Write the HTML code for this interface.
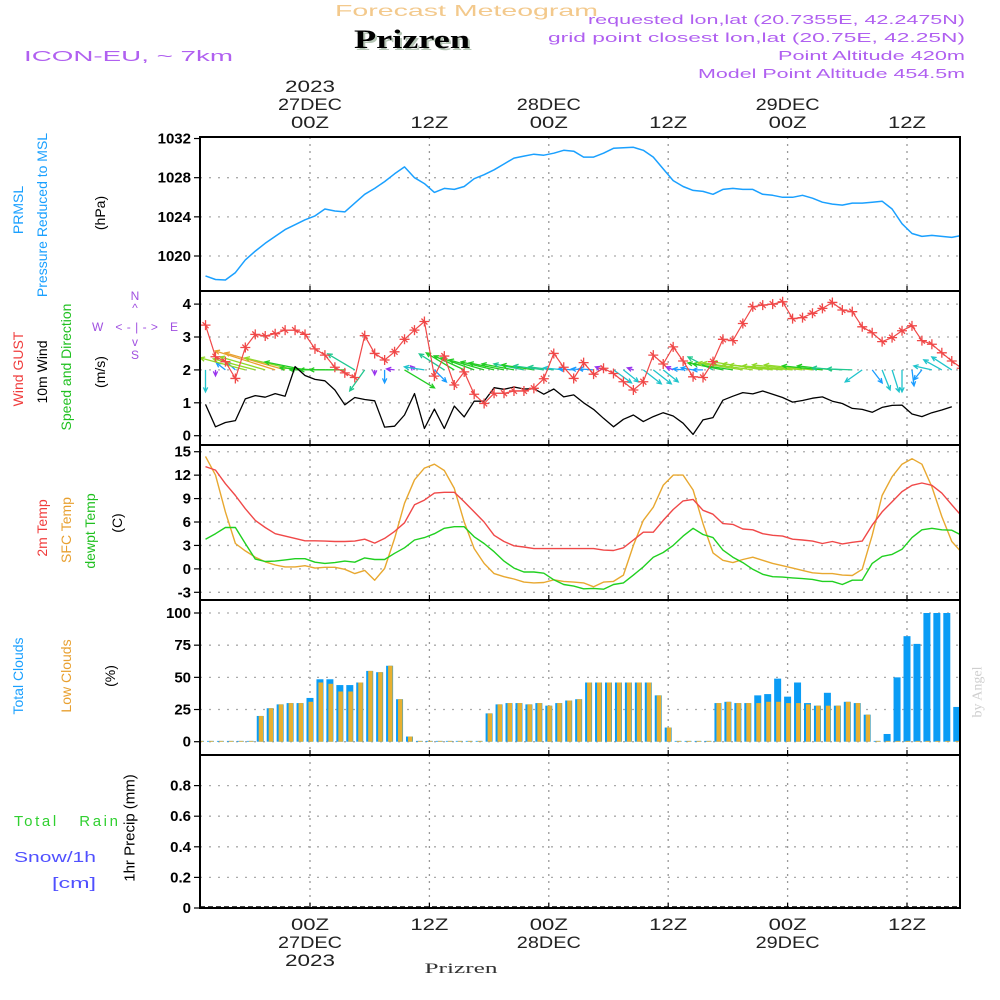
<!DOCTYPE html>
<html>
<head>
<meta charset="utf-8">
<style>
html,body{margin:0;padding:0;background:#fff;}
svg{display:block;}
text{font-family:"Liberation Sans",sans-serif;}
</style>
</head>
<body>
<svg id="chart" width="1000" height="1000" viewBox="0 0 1000 1000" xmlns="http://www.w3.org/2000/svg">
  <text x="335" y="16" font-size="16" fill="#f3c98c" textLength="263" lengthAdjust="spacingAndGlyphs">Forecast Meteogram</text>
  <text x="356" y="50" font-size="26" font-weight="bold" fill="#b5c5b5" textLength="116" lengthAdjust="spacingAndGlyphs" style="font-family:'Liberation Serif',serif">Prizren</text>
  <text x="354" y="48" font-size="26" font-weight="bold" fill="#000" textLength="116" lengthAdjust="spacingAndGlyphs" style="font-family:'Liberation Serif',serif">Prizren</text>
  <text x="24" y="61" font-size="15" fill="#b060f0" textLength="209" lengthAdjust="spacingAndGlyphs">ICON-EU, ~ 7km</text>
  <text x="965" y="24" font-size="13" fill="#b060f0" text-anchor="end" textLength="377" lengthAdjust="spacingAndGlyphs">requested lon,lat (20.7355E, 42.2475N)</text>
  <text x="965" y="42" font-size="13" fill="#b060f0" text-anchor="end" textLength="417" lengthAdjust="spacingAndGlyphs">grid point closest lon,lat (20.75E, 42.25N)</text>
  <text x="965" y="60" font-size="13" fill="#b060f0" text-anchor="end" textLength="187" lengthAdjust="spacingAndGlyphs">Point Altitude 420m</text>
  <text x="965" y="78" font-size="13" fill="#b060f0" text-anchor="end" textLength="267" lengthAdjust="spacingAndGlyphs">Model Point Altitude 454.5m</text>

  <g font-size="14">
    <text transform="translate(18,210) rotate(-90)" text-anchor="middle" dominant-baseline="central" fill="#1aa0ff">PRMSL</text>
    <text transform="translate(42,215) rotate(-90)" text-anchor="middle" dominant-baseline="central" fill="#1aa0ff">Pressure Reduced to MSL</text>
    <text transform="translate(100,213) rotate(-90)" text-anchor="middle" dominant-baseline="central" fill="#000">(hPa)</text>
    <text transform="translate(18,369) rotate(-90)" text-anchor="middle" dominant-baseline="central" fill="#f03c3c">Wind GUST</text>
    <text transform="translate(42,372) rotate(-90)" text-anchor="middle" dominant-baseline="central" fill="#000">10m Wind</text>
    <text transform="translate(66,367) rotate(-90)" text-anchor="middle" dominant-baseline="central" fill="#20c020">Speed and Direction</text>
    <text transform="translate(100,372) rotate(-90)" text-anchor="middle" dominant-baseline="central" fill="#000">(m/s)</text>
    <text transform="translate(42,528) rotate(-90)" text-anchor="middle" dominant-baseline="central" fill="#f03c3c">2m Temp</text>
    <text transform="translate(66,530) rotate(-90)" text-anchor="middle" dominant-baseline="central" fill="#e8a030">SFC Temp</text>
    <text transform="translate(90,531) rotate(-90)" text-anchor="middle" dominant-baseline="central" fill="#20c020">dewpt Temp</text>
    <text transform="translate(117,523) rotate(-90)" text-anchor="middle" dominant-baseline="central" fill="#000">(C)</text>
    <text transform="translate(18,676) rotate(-90)" text-anchor="middle" dominant-baseline="central" fill="#1aa0ff">Total Clouds</text>
    <text transform="translate(66,676) rotate(-90)" text-anchor="middle" dominant-baseline="central" fill="#e8a030">Low Clouds</text>
    <text transform="translate(110,676) rotate(-90)" text-anchor="middle" dominant-baseline="central" fill="#000">(%)</text>
    <text transform="translate(130,828) rotate(-90)" text-anchor="middle" dominant-baseline="central" fill="#000" font-size="15">1hr Precip (mm)</text>
  </g>
  <text x="14" y="826" font-size="15" fill="#30d030" textLength="104" lengthAdjust="spacing" xml:space="preserve">Total   Rain</text>
  <text x="14" y="862" font-size="15" fill="#5050ff" textLength="82" lengthAdjust="spacingAndGlyphs">Snow/1h</text>
  <text x="52" y="888" font-size="15" fill="#5050ff" textLength="44" lengthAdjust="spacingAndGlyphs">[cm]</text>
  <text transform="translate(978,692) rotate(-90)" text-anchor="middle" dominant-baseline="central" font-size="14" fill="#cfcfcf" style="font-family:'Liberation Serif',serif">by Angel</text>

  <g fill="#a050e0" font-size="12">
    <text x="135" y="300" text-anchor="middle">N</text>
    <text x="135" y="312" text-anchor="middle">^</text>
    <text x="135" y="331" text-anchor="middle" textLength="86" lengthAdjust="spacing" xml:space="preserve">W &lt;-|-&gt; E</text>
    <text x="135" y="346" text-anchor="middle">v</text>
    <text x="135" y="359" text-anchor="middle">S</text>
  </g>

  <g id="plots"></g>

  <text x="461" y="973" font-size="15" fill="#333" text-anchor="middle" textLength="73" lengthAdjust="spacingAndGlyphs" style="font-family:'Liberation Serif',serif">Prizren</text>
</svg>

<script>
const timeTicks = [0, 12, 24, 36, 48, 60];
const topDateLabels = ["27DEC", "", "28DEC", "", "29DEC", ""];
const hourLabels = ["00Z", "12Z", "00Z", "12Z", "00Z", "12Z"];
const pressureTicks = [1020, 1024, 1028, 1032];
const windTicks = [0, 1, 2, 3, 4];
const tempTicks = [-3, 0, 3, 6, 9, 12, 15];
const cloudTicks = [0, 25, 50, 75, 100];
const precipTicks = [0, 0.2, 0.4, 0.6, 0.8];
const precipTickLabels = ["0", "0.2", "0.4", "0.6", "0.8"];

const pressure = [1017.97,1017.6,1017.55,1018.3,1019.6,1020.5,1021.3,1022.0,1022.7,1023.2,1023.7,1024.1,1024.8,1024.6,1024.5,1025.4,1026.3,1026.9,1027.6,1028.4,1029.1,1028.0,1027.4,1026.5,1026.9,1026.8,1027.1,1027.9,1028.3,1028.8,1029.4,1030.0,1030.2,1030.4,1030.3,1030.5,1030.8,1030.7,1030.1,1030.1,1030.5,1031.0,1031.05,1031.1,1030.8,1030.1,1028.9,1027.7,1027.1,1026.7,1026.6,1026.3,1026.8,1026.9,1026.8,1026.8,1026.3,1026.2,1026.0,1026.0,1026.2,1025.9,1025.5,1025.3,1025.2,1025.4,1025.4,1025.5,1025.6,1024.8,1023.3,1022.3,1022.0,1022.1,1022.0,1021.9,1022.1];

const wind10m = [0.95,0.27,0.4,0.46,1.12,1.22,1.17,1.28,1.2,2.1,1.83,1.71,1.67,1.39,0.94,1.16,1.1,1.06,0.26,0.29,0.63,1.28,0.22,0.81,0.22,0.9,0.57,1.05,1.05,1.46,1.41,1.48,1.42,1.43,1.26,1.42,1.18,1.24,1.0,0.8,0.53,0.27,0.5,0.63,0.43,0.58,0.7,0.6,0.38,0.04,0.48,0.55,1.08,1.2,1.31,1.27,1.36,1.26,1.16,1.02,1.07,1.14,1.18,1.05,0.98,0.83,0.8,0.71,0.86,0.92,0.93,0.66,0.58,0.7,0.78,0.88];

const windGust = [3.36,2.4,2.25,1.74,2.68,3.08,3.03,3.1,3.21,3.21,3.08,2.64,2.45,2.08,1.91,1.77,3.04,2.5,2.3,2.55,2.93,3.21,3.47,1.81,2.42,1.54,1.94,1.26,0.98,1.29,1.29,1.36,1.36,1.44,1.73,2.5,2.08,1.74,2.22,1.87,2.05,1.89,1.64,1.39,1.64,2.45,2.18,2.7,2.27,1.79,1.77,2.25,2.93,2.89,3.41,3.92,3.97,4.0,4.07,3.56,3.59,3.72,3.87,4.05,3.82,3.77,3.31,3.13,2.86,2.98,3.19,3.34,2.89,2.78,2.52,2.27,2.05];

const windU = [0,0,-0.9,-0.9,-4.5,-4.2,-4.5,-6,-6,-5,-4,-3.5,-3.5,-3.5,-3.5,-2.7,-1.5,0,0,-0.8,3,-0.4,-2,1.2,-2.5,-2.8,-3.0,-3.3,-3.5,-3.3,-3.5,-3.2,-3.0,-3.2,-3.0,-2.5,-2.0,-1.5,-1.2,-1.5,-0.8,1.8,1.5,-0.6,1.8,1.8,1.5,-0.7,-1.0,-1.2,-1.0,-2.5,-3.5,-4,-4.5,-5,-5,-5,-5.3,-5,-5,-4.8,-4,-3.5,-3,-2.5,-1.7,1,0.8,0.7,0,0.2,-0.8,-1.8,-1.8,-2,1.5];
const windV = [-2.2,-0.6,0.7,0.8,1.2,1.1,1.3,1.9,1.7,1.2,0.8,0.2,0,0,0,1.6,-2.1,-0.5,-1.3,0.1,-1.8,0.4,0.3,-1.2,1.6,1.7,1.4,1.2,1.0,0.8,0.7,0.6,0.6,0.5,0.4,0.3,0.2,0.1,0.1,0.1,0.3,-1.3,-1.2,0.2,-1.4,-1.4,-1.2,0.3,0.1,0.2,0,1.3,0.7,0.6,0.7,0.7,0.8,0.6,0.5,0.4,0.5,0.5,0.4,0.4,0.2,0.1,-1.2,-1.3,-2,-2.2,-2.2,-1.6,-1.0,0.4,1.0,1.3,-0.4];

const temp2m = [13.1,12.65,10.9,9.4,7.7,6.2,5.3,4.5,4.2,3.9,3.6,3.6,3.55,3.5,3.5,3.55,3.8,3.3,3.9,4.8,5.9,8.2,8.8,9.7,9.8,9.8,8.6,7.3,6.0,4.3,3.5,2.95,2.8,2.6,2.6,2.6,2.6,2.6,2.6,2.6,2.4,2.35,2.7,3.7,4.7,4.7,6.2,7.6,8.7,8.9,7.5,7.0,5.8,5.7,5.1,5.0,4.5,4.3,4.2,3.8,3.7,3.55,3.25,3.5,3.2,3.4,3.55,5.6,7.3,8.6,9.9,10.7,11.0,10.7,9.7,8.2,6.75];
const tempSfc = [14.4,12,7.3,3.25,2.3,1.5,0.9,0.5,0.25,0.25,0.4,0.1,0.2,0.2,-0.05,-0.6,-0.2,-1.45,0.05,3.9,8.4,11.4,12.9,13.4,12.6,10.3,6.0,2.6,0.7,-0.6,-1.0,-1.3,-1.7,-1.8,-1.75,-1.4,-1.6,-1.7,-1.8,-2.3,-1.7,-1.6,-0.8,3.0,6.2,7.9,10.7,12.0,12.0,10.1,5.8,2.05,1.1,0.8,1.2,1.5,1.1,0.7,0.4,0.1,-0.2,-0.5,-0.6,-0.6,-0.8,-0.85,-0.05,4.3,9.4,11.8,13.4,14.1,13.4,10.5,6.7,3.5,2.1];
const tempDew = [3.8,4.5,5.3,5.3,3.25,1.25,0.95,1.0,1.15,1.3,1.3,0.85,0.7,0.8,1.0,0.85,1.4,1.2,1.2,2.0,2.7,3.7,4.0,4.5,5.2,5.4,5.4,4.1,3.25,2.2,1.0,0.1,-0.4,-0.4,-0.55,-1.4,-2.0,-2.2,-2.55,-2.5,-2.6,-2.0,-1.8,-0.8,0.25,1.5,2.1,3.0,4.2,5.2,4.4,4.0,2.4,1.5,0.8,-0.05,-0.7,-1.0,-1.05,-1.15,-1.25,-1.35,-1.6,-1.6,-2.0,-1.45,-1.45,0.7,1.6,1.85,2.5,4.0,5.0,5.2,5.0,4.95,4.3];

const cloudTotal = [0,0,0,0,0,0,20,26,29,30,30,34,48.5,48.5,44,44,46,55,54,59,33,4,0,0,0,0,0,0,0,22,29,30,30,29,30,28,30,32,33,46,46,46,46,46,46,46,36,11,0,0,0,0,30,31,30,30,36,37,49,35,46,30,28,38,28,31,30,21,0,6,50,82,76,100,100,100,27];
const cloudLow = [0,0,0,0,0,0,20,26,29,30,30,31,46,45,39,39,46,55,54,59,33,4,0,0,0,0,0,0,0,22,29,30,30,29,30,28,30,32,33,46,46,46,46,46,46,46,36,11,0,0,0,0,30,31,30,30,30,31,31,30,30,29,28,28,28,31,30,21,0,0,0,0,0,0,0,0,0];
const precip = [];

const X0 = 200, X1 = 960;
const xH = h => 310 + h * 9.95;
const xL = k => xH(k - 10.5);
const xB = i => xH(i - 11);
const yP = v => 256 - (v - 1020) * 9.79;
const yW = v => 435.7 - v * 32.9;
const yT = v => 592.3 - (v + 3) * 7.81;
const yC = v => 741.7 - v * 1.287;
const yR = v => 908 - v * 153;
const panels = [[137, 291], [291, 445], [445, 600], [600, 755], [755, 908]];

const NS = "http://www.w3.org/2000/svg";
const root = document.getElementById("plots");
function mk(tag, attrs, parent) {
  const e = document.createElementNS(NS, tag);
  for (const k in attrs) e.setAttribute(k, attrs[k]);
  (parent || root).appendChild(e);
  return e;
}

const defs = mk("defs", {});
const cp = mk("clipPath", { id: "plotclip" }, defs);
mk("rect", { x: X0, y: 137, width: X1 - X0, height: 771 }, cp);

panels.forEach((p, pi) => {
  timeTicks.forEach(h => {
    const g = mk("line", { x1: xH(h), x2: xH(h), y1: p[0], y2: p[1], stroke: "#999", "stroke-width": 1.3, "stroke-dasharray": "2,5" });
    
    
  });
});
function hgrid(ticks, yf, labels, top, bottom) {
  ticks.forEach((t, i) => {
    const y = yf(t);
    if (y > top + 2 && y < bottom - 2) {
      const g = mk("line", { x1: X0, x2: X1, y1: y, y2: y, stroke: "#aaa", "stroke-width": 1.3, "stroke-dasharray": "2,7" });
      
      
    }
    const tk = mk("line", { x1: X0 - 6, x2: X0, y1: y, y2: y, stroke: "#000", "stroke-width": 1.2 });
    
    
    const tx = mk("text", { x: X0 - 9, y: y + 5, "text-anchor": "end", "font-size": 15, "font-weight": "bold", fill: "#000" });
    tx.textContent = labels ? labels[i] : String(t);
    
    
  });
}
hgrid(pressureTicks, yP, null, 137, 291);
hgrid(windTicks, yW, null, 291, 445);
hgrid(tempTicks, yT, null, 445, 600);
hgrid(cloudTicks, yC, null, 600, 755);
hgrid(precipTicks, yR, precipTickLabels, 755, 908);

timeTicks.forEach((h, i) => {
  const x = xH(h);
  const t1 = mk("text", { x: x, y: 128, "text-anchor": "middle", "font-size": 17, fill: "#222", textLength: 38, lengthAdjust: "spacingAndGlyphs" });
  t1.textContent = hourLabels[i];
  
  
  const b1 = mk("text", { x: x, y: 930, "text-anchor": "middle", "font-size": 17, fill: "#222", textLength: 38, lengthAdjust: "spacingAndGlyphs" });
  b1.textContent = hourLabels[i];
  
  
  if (topDateLabels[i]) {
    const t2 = mk("text", { x: x, y: 110, "text-anchor": "middle", "font-size": 17, fill: "#222", textLength: 64, lengthAdjust: "spacingAndGlyphs" });
    t2.textContent = topDateLabels[i];
    
    
    const b2 = mk("text", { x: x, y: 948, "text-anchor": "middle", "font-size": 17, fill: "#222", textLength: 64, lengthAdjust: "spacingAndGlyphs" });
    b2.textContent = topDateLabels[i];
    
    
  }
  if (i === 0) {
    const t3 = mk("text", { x: x, y: 92, "text-anchor": "middle", "font-size": 17, fill: "#222", textLength: 50, lengthAdjust: "spacingAndGlyphs" });
    t3.textContent = "2023";
    
    
    const b3 = mk("text", { x: x, y: 966, "text-anchor": "middle", "font-size": 17, fill: "#222", textLength: 50, lengthAdjust: "spacingAndGlyphs" });
    b3.textContent = "2023";
    
    
  }
});

const plotG = mk("g", { "clip-path": "url(#plotclip)" });

function polyline(vals, yf, color, width, name) {
  const pts = vals.map((v, k) => xL(k).toFixed(1) + "," + yf(v).toFixed(1)).join(" ");
  const pl = mk("polyline", { points: pts, fill: "none", stroke: color, "stroke-width": width, "stroke-linejoin": "round" }, plotG);
  
  
}

polyline(pressure, yP, "#1aa0ff", 1.5, "pressure-line");

cloudTotal.forEach((v, i) => {
  const x = xB(i);
  const h = Math.max(v * 1.287, 0.8);
  const b = mk("rect", { x: x - 3.5, y: yC(0) - h, width: 7, height: h, fill: "#0a9cf5" }, plotG);
  
  
});
cloudLow.forEach((v, i) => {
  const x = xB(i);
  const h = Math.max(v * 1.287, 0.8);
  const b = mk("rect", { x: x - 1.5, y: yC(0) - h, width: 4.5, height: h, fill: "#e8b030" }, plotG);
  
  
});

polyline(tempSfc, yT, "#e8a830", 1.4, "sfc-temp-line");
polyline(temp2m, yT, "#f04848", 1.4, "temp-2m-line");
polyline(tempDew, yT, "#20d020", 1.4, "dewpoint-line");

function arrowColor(m) {
  if (m < 0.9) return "#9933ee";
  if (m < 1.7) return "#1a9cff";
  if (m < 2.4) return "#20c4cc";
  if (m < 3.2) return "#20c890";
  if (m < 4.3) return "#22cc22";
  if (m < 5.4) return "#90d828";
  if (m < 6.0) return "#d8c828";
  return "#e8a030";
}
windU.forEach((u, k) => {
  const v = windV[k];
  const m = Math.hypot(u, v);
  if (m < 0.05) return;
  const x0 = xL(k), y0 = yW(2);
  const x1 = x0 + u * 10, y1 = y0 - v * 10;
  const c = arrowColor(m);
  const ang = Math.atan2(y1 - y0, x1 - x0);
  const hl = 5;
  const a1 = ang + Math.PI - 0.45, a2 = ang + Math.PI + 0.45;
  const d = `M${x0.toFixed(1)},${y0.toFixed(1)} L${x1.toFixed(1)},${y1.toFixed(1)} M${(x1 + hl * Math.cos(a1)).toFixed(1)},${(y1 + hl * Math.sin(a1)).toFixed(1)} L${x1.toFixed(1)},${y1.toFixed(1)} L${(x1 + hl * Math.cos(a2)).toFixed(1)},${(y1 + hl * Math.sin(a2)).toFixed(1)}`;
  const p = mk("path", { d: d, stroke: c, "stroke-width": 1.3, fill: "none" }, plotG);
  
  
});

polyline(wind10m, yW, "#000", 1.3, "wind-10m-line");
polyline(windGust, yW, "#f04848", 1.2, "wind-gust-line");
windGust.forEach((v, k) => {
  const x = xL(k), y = yW(v);
  const d = `M${x - 5},${y} L${x + 5},${y} M${x},${y - 5} L${x},${y + 5} M${x - 3},${y - 3} L${x + 3},${y + 3}`;
  const p = mk("path", { d: d, stroke: "#f04848", "stroke-width": 1.3, fill: "none" }, plotG);
  
  
});

const pb = mk("line", { x1: X0, x2: X1, y1: 907, y2: 907, stroke: "#000", "stroke-width": 1.5, "stroke-dasharray": "5,3" }, plotG);



panels.forEach(p => {
  const r = mk("rect", { x: X0, y: p[0], width: X1 - X0, height: p[1] - p[0], fill: "none", stroke: "#000", "stroke-width": 2 });
  
  
  timeTicks.forEach(h => {
    const t = mk("line", { x1: xH(h), x2: xH(h), y1: p[1] - 5, y2: p[1], stroke: "#000", "stroke-width": 1.2 });
    
    
  });
});
</script>
</body>
</html>
